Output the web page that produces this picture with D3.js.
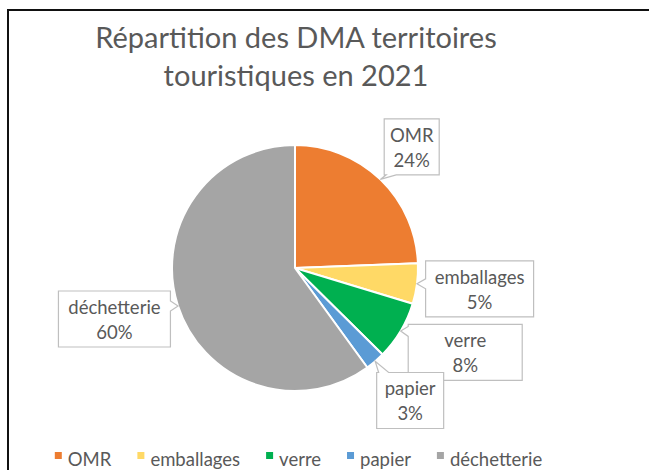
<!DOCTYPE html>
<html>
<head>
<meta charset="utf-8">
<script src="https://cdn.jsdelivr.net/npm/d3@7"></script>
<style>
  html, body { margin: 0; padding: 0; background: #fff; }
  svg { display: block; font-family: Lato, "Open Sans", sans-serif; }
</style>
</head>
<body>
<div id="chart"></div>
<script>
'use strict';

const categories = ['OMR', 'emballages', 'verre', 'papier', 'déchetterie'];
const shares = [24.4, 5.3, 7.7, 2.6, 60.0];
const colors = ['#ED7D31', '#FFD966', '#00B050', '#5B9BD5', '#A5A5A5'];
const titleLines = ['Répartition des DMA territoires', 'touristiques en 2021'];
// label box widths and small nudges, as Excel left them
const boxWidths = [55, 108, 114, 67, 112];
const boxNudge = [[0, 0], [0, -3], [5, -14], [3, 2], [1, -8]];

const width = 649, height = 470;
const cx = 295, cy = 268, radius = 123;
const textColor = '#595959';

const svg = d3.select('#chart').append('svg')
    .attr('width', width)
    .attr('height', height);

// chart frame (only top and left edges fall inside the picture)
svg.append('rect')
    .attr('x', 8).attr('y', 10)
    .attr('width', 700).attr('height', 600)
    .attr('fill', 'none')
    .attr('stroke', '#111')
    .attr('stroke-width', 2);

// title
svg.append('text')
    .attr('fill', textColor)
    .attr('font-size', 29)
    .attr('text-anchor', 'middle')
  .selectAll('tspan')
    .data(titleLines)
  .enter().append('tspan')
    .attr('x', 296)
    .attr('y', (d, i) => 48 + i * 38)
    .text(d => d);

const data = categories.map((c, i) => ({ name: c, value: shares[i], color: colors[i], bw: boxWidths[i], nudge: boxNudge[i] }));

const pie = d3.pie().sort(null).value(d => d.value);
const arc = d3.arc().innerRadius(0).outerRadius(radius);
const arcs = pie(data);

const graph = svg.append('g')
    .attr('transform', `translate(${cx}, ${cy})`);

graph.selectAll('.slice')
    .data(arcs)
  .enter().append('path')
    .attr('class', 'slice')
    .attr('d', arc)
    .attr('fill', d => d.data.color)
    .attr('stroke', '#fff')
    .attr('stroke-width', 2)
    .attr('stroke-linejoin', 'round');

// callout outline: rectangle with a wedge going to the tip
function callout(x0, y0, x1, y1, tx, ty) {
  const w = 5;
  const out = [x0 - tx, ty - y1, tx - x1, y0 - ty]; // left, bottom, right, top
  const side = out.indexOf(d3.max(out));
  const cyc = Math.max(y0 + w + 2, Math.min(y1 - w - 2, ty));
  const cxc = Math.max(x0 + w + 2, Math.min(x1 - w - 2, tx));
  const p = d3.path();
  p.moveTo(x0, y0);
  if (side === 3) { p.lineTo(cxc - w, y0); p.lineTo(tx, ty); p.lineTo(cxc + w, y0); }
  p.lineTo(x1, y0);
  if (side === 2) { p.lineTo(x1, cyc - w); p.lineTo(tx, ty); p.lineTo(x1, cyc + w); }
  p.lineTo(x1, y1);
  if (side === 1) { p.lineTo(cxc + w, y1); p.lineTo(tx, ty); p.lineTo(cxc - w, y1); }
  p.lineTo(x0, y1);
  if (side === 0) { p.lineTo(x0, cyc + w); p.lineTo(tx, ty); p.lineTo(x0, cyc - w); }
  p.closePath();
  return p.toString();
}

const boxH = 56;
const labels = graph.selectAll('.label')
    .data(arcs)
  .enter().append('g')
    .attr('class', 'label');

labels.each(function(d) {
  const a = (d.startAngle + d.endAngle) / 2;
  const sa = Math.sin(a), ca = -Math.cos(a);
  const hw = d.data.bw / 2, hh = boxH / 2;
  const dist = radius + 6 + Math.abs(sa) * hw + Math.abs(ca) * hh;
  const bx = sa * dist + d.data.nudge[0], by = ca * dist + d.data.nudge[1];
  const tx = sa * radius, ty = ca * radius;
  const g = d3.select(this);
  g.append('path')
      .attr('d', callout(bx - hw, by - hh, bx + hw, by + hh, tx, ty))
      .attr('fill', '#fff')
      .attr('stroke', '#BFBFBF')
      .attr('stroke-width', 1.2);
  g.append('text')
      .attr('text-anchor', 'middle')
      .attr('fill', textColor)
      .attr('font-size', 18.5)
    .selectAll('tspan')
      .data([d.data.name, Math.round(d.data.value) + '%'])
    .enter().append('tspan')
      .attr('x', bx)
      .attr('y', (t, i) => by - 5 + i * 25)
      .text(t => t);
});

// legend
const legend = svg.append('g').attr('class', 'legend');
const gap = 26;
let lx = 0;
data.forEach(d => {
  const item = legend.append('g').attr('transform', `translate(${lx}, 0)`);
  item.append('rect')
      .attr('x', 0).attr('y', 452)
      .attr('width', 7).attr('height', 7)
      .attr('fill', d.color);
  const t = item.append('text')
      .attr('x', 13).attr('y', 466)
      .attr('fill', textColor)
      .attr('font-size', 18.5)
      .text(d.name);
  lx += 13 + t.node().getComputedTextLength() + gap;
});
const legendW = lx - gap;
legend.attr('transform', `translate(${298.5 - legendW / 2}, 0)`);
</script>
</body>
</html>
